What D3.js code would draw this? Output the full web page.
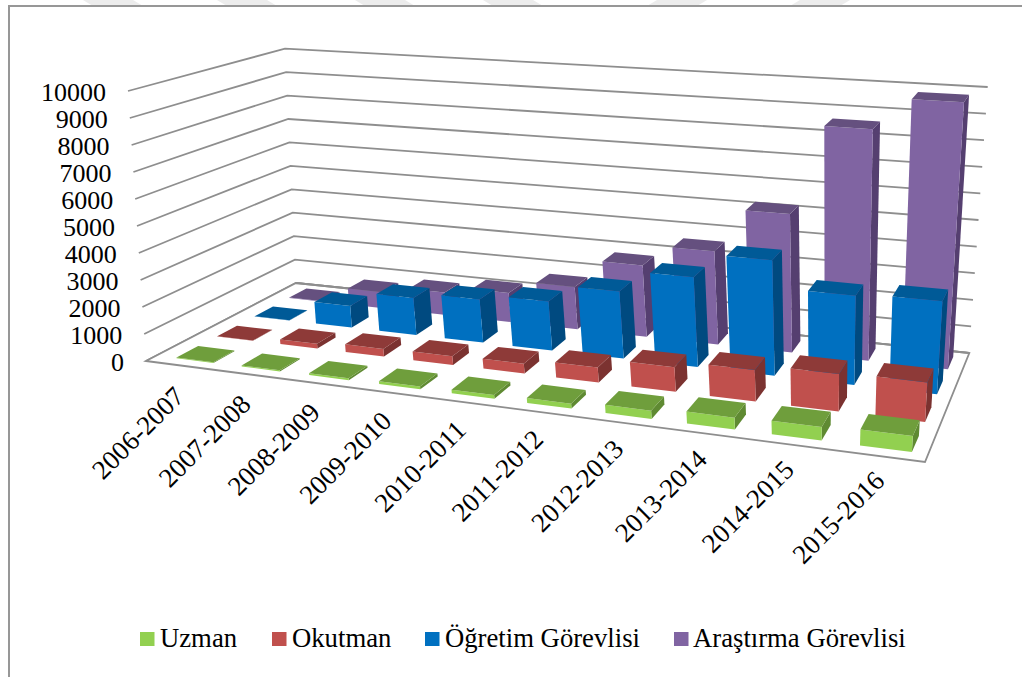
<!DOCTYPE html>
<html><head><meta charset="utf-8">
<script src="https://cdn.jsdelivr.net/npm/d3@7"></script>
<style>html,body{margin:0;padding:0;background:#fff;overflow:hidden}svg{display:block;opacity:.999}text{font-family:"Liberation Serif",serif;fill:#000}</style>
</head><body><svg id="c" width="1022" height="677"></svg>
<script>
const categories=["2006-2007","2007-2008","2008-2009","2009-2010","2010-2011","2011-2012","2012-2013","2013-2014","2014-2015","2015-2016"];
const seriesNames=["Uzman","Okutman","Öğretim Görevlisi","Araştırma Görevlisi"];
const uzman=[20,40,70,100,130,170,280,400,450,530];
const okutman=[10,180,290,320,360,540,870,1100,1300,1350];
const ogretim=[10,850,1430,1650,1850,2500,3300,4200,3200,3300];
const arastirma=[20,650,900,1150,1650,2750,3550,5200,8600,9800];
const seriesValues=[uzman,okutman,ogretim,arastirma];
const frontColors=["#92D050","#C0504D","#0070C0","#8064A2"];
const topColors=["#6F9E3C","#8E3A38","#005A97","#65507F"];
const sideColors=["#5F8A32","#7B3230","#004A80","#553F70"];
const yTicks=[0,10000];

const floorQuad=[[146,361],[925,462],[969.3,353],[296,283]];
const topQuad=[[128,91],[944,155],[987.7,87],[285,48.7]];
function homography(q){
  const [[x0,y0],[x1,y1],[x2,y2],[x3,y3]]=q;
  const dx1=x1-x2,dx2=x3-x2,sx=x0-x1+x2-x3,dy1=y1-y2,dy2=y3-y2,sy=y0-y1+y2-y3;
  const d=dx1*dy2-dx2*dy1,g=(sx*dy2-dx2*sy)/d,h=(dx1*sy-sx*dy1)/d;
  const a=x1-x0+g*x1,b=x3-x0+h*x3,e=y1-y0+g*y1,f=y3-y0+h*y3;
  return (u,v)=>{const w=g*u+h*v+1;return [(a*u+b*v+x0)/w,(e*u+f*v+y0)/w];};
}
const H0=homography(floorQuad),H1=homography(topQuad);
const yScale=d3.scaleLinear().domain(yTicks).range([0,1]);
const uScale=d3.scaleBand().domain(categories).range([0.018,0.996]).paddingInner(0.43).paddingOuter(0.135);
const vScale=d3.scaleBand().domain(seriesNames).range([0,1]).paddingInner(0.48).paddingOuter(0.24);
function P(u,v,val){const a=H0(u,v),b=H1(u,v),t=yScale(val);return [a[0]+(b[0]-a[0])*t,a[1]+(b[1]-a[1])*t];}
const svg=d3.select("#c");
const poly=p=>p.map(d=>d.map(n=>n.toFixed(1)).join(",")).join(" ");

// watermark stripes
const stripeX=[88,222,360,488,652,795],stripeSlant=[-1,-1,-1,-1,1,1];
svg.append("g").selectAll("polygon").data(stripeX).join("polygon")
  .attr("fill","#ececec")
  .attr("points",(x,i)=>{const s=stripeSlant[i]*5;return `${x+s},0 ${x+s+50},0 ${x+50-s},6 ${x-s},6`;});

// frame
svg.append("rect").attr("x",9).attr("y",6).attr("width",1030).attr("height",700).attr("fill","#fff").attr("stroke","#979797").attr("stroke-width",2);

// grid
const gridCol="#8E8E8E";
const grid=svg.append("g").attr("fill","none").attr("stroke",gridCol).attr("stroke-width",1.8);
const ticks=yScale.ticks(10);
ticks.forEach(t=>{
  grid.append("polyline").attr("points",poly([P(0,0,t),P(0,1,t),P(1,1,t)]));
});
grid.append("polygon").attr("points",poly([P(0,0,0),P(1,0,0),P(1,1,0),P(0,1,0)])).attr("fill","#fff");
grid.append("polyline").attr("points",poly([P(0,1,0),P(1,1,0)]));

// bars
const bars=svg.append("g");
for(let s=seriesNames.length-1;s>=0;s--){
  categories.forEach((c,i)=>{
    const val=seriesValues[s][i];
    const u0=uScale(c),u1=u0+uScale.bandwidth(),v0=vScale(seriesNames[s]),v1=v0+vScale.bandwidth();
    const g=bars.append("g");
    g.append("polygon").attr("fill",sideColors[s]).attr("points",poly([P(u1,v0,0),P(u1,v1,0),P(u1,v1,val),P(u1,v0,val)]));
    g.append("polygon").attr("fill",frontColors[s]).attr("points",poly([P(u0,v0,0),P(u1,v0,0),P(u1,v0,val),P(u0,v0,val)]));
    g.append("polygon").attr("fill",topColors[s]).attr("points",poly([P(u0,v0,val),P(u1,v0,val),P(u1,v1,val),P(u0,v1,val)]));
  });
}

// value labels
svg.append("g").selectAll("text").data(ticks).join("text")
  .attr("x",t=>P(0,0,t)[0]-22).attr("y",t=>P(0,0,t)[1]+10)
  .attr("text-anchor","end").attr("font-size",26).text(d=>d);

// category labels
const labelDx=d3.scaleLinear().domain([0,categories.length-1]).range([1,4]);
const labelDy=d3.scaleLinear().domain([0,categories.length-1]).range([32,26]);
svg.append("g").selectAll("text").data(categories).join("text")
  .attr("text-anchor","end").attr("font-size",27)
  .attr("transform",(c,i)=>{const p=H0(uScale(c)+uScale.bandwidth()/2,0);return `translate(${p[0]+labelDx(i)},${p[1]+labelDy(i)}) rotate(-45)`;})
  .text(d=>d);

// legend
const legendX=[140,272,425,674],legendTextX=[160,292,445,693];
const lg=svg.append("g");
seriesNames.forEach((n,i)=>{
  lg.append("rect").attr("x",legendX[i]).attr("y",632).attr("width",14.5).attr("height",14).attr("fill",frontColors[i]);
  lg.append("text").attr("x",legendTextX[i]).attr("y",647).attr("font-size",26.7).text(n);
});
</script></body></html>
